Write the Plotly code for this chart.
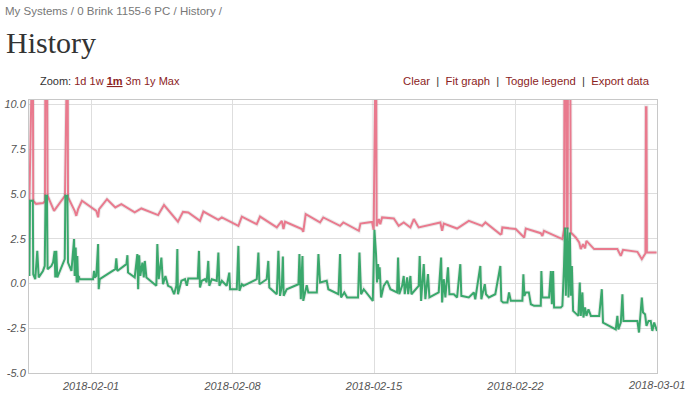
import pandas as pd
import plotly.graph_objects as go

BASE = pd.Timestamp("2018-02-01")

# ---- data (time = days since 2018-02-01, value) ----
pink_days = [-3.05, -3.03, -2.88, -2.86, -2.72, -2.38, -2.28, -2.25, -2.18, -2.15,
             -1.83, -1.29, -1.26, -1.16, -1.14, -0.81, -0.73, -0.64, -0.45, 0.26,
             0.35, 0.40, 0.79, 1.20, 1.50, 2.16, 2.49, 3.32, 3.61, 4.30,
             4.55, 4.81, 5.39, 5.56, 6.30, 6.47, 7.29, 7.46, 8.20, 8.36,
             9.19, 9.44, 9.52, 9.60, 10.43, 10.50, 10.62, 11.33, 11.49, 12.32,
             12.48, 13.25, 13.33, 13.90, 13.98, 14.00, 14.10, 14.13, 14.24, 14.31,
             14.40, 14.98, 15.22, 15.47, 15.80, 15.97, 16.21, 17.28, 17.37, 17.45,
             18.11, 18.69, 19.35, 19.51, 20.25, 20.31, 20.35, 21.01, 21.43, 21.51,
             22.25, 22.33, 22.41, 23.32, 23.40, 23.43, 23.50, 23.53, 23.58, 23.60,
             23.70, 23.74, 23.98, 24.15, 24.23, 24.34, 24.44, 24.51, 24.89, 26.04,
             26.21, 26.32, 27.03, 27.25, 27.43, 27.45, 27.48, 27.50, 27.98]
pink_values = [4.62, 15, 15, 4.62, 4.45, 4.49, 4.60, 15, 15, 4.90,
               4.06, 4.90, 15, 15, 4.82, 4.06, 3.78, 4.15, 4.62, 4.06,
               3.70, 4.15, 4.71, 4.25, 4.43, 3.97, 4.19, 3.82, 4.38, 3.45,
               4.00, 3.97, 3.50, 4.02, 3.56, 3.69, 3.22, 3.74, 3.31, 3.74,
               3.13, 3.50, 3.04, 3.45, 3.04, 2.89, 3.87, 3.41, 3.69, 3.22,
               3.41, 2.94, 3.35, 3.44, 3.00, 15, 15, 3.20, 3.60, 3.31,
               3.69, 3.63, 3.22, 3.41, 3.13, 3.60, 3.13, 3.41, 2.94, 3.35,
               3.07, 3.50, 3.22, 3.41, 2.75, 2.78, 3.13, 3.04, 2.57, 3.07,
               2.81, 2.66, 2.94, 2.48, 3.00, 15, 15, 3.10, 3.10, 15,
               15, 2.85, 2.57, 2.29, 1.92, 2.20, 1.96, 2.38, 1.92, 1.92,
               1.54, 1.88, 1.77, 1.36, 1.69, 9.85, 9.85, 1.73, 1.73]

green_days = [-3.05, -3.02, -2.88, -2.86, -2.76, -2.66, -2.59, -2.38, -2.29, -2.25,
              -2.18, -2.15, -1.96, -1.88, -1.80, -1.77, -1.72, -1.67, -1.30, -1.27,
              -1.17, -1.14, -0.97, -0.84, -0.81, -0.76, -0.71, -0.68, -0.64, -0.61,
              -0.56, 0.10, 0.15, 0.18, 0.26, 0.35, 0.38, 0.43, 1.20, 1.25,
              1.30, 1.75, 1.80, 1.83, 2.16, 2.29, 2.33, 2.38, 2.44, 2.54,
              2.61, 2.66, 2.74, 3.23, 3.28, 3.35, 3.48, 3.56, 3.68, 3.81,
              3.97, 4.11, 4.22, 4.27, 4.30, 4.47, 4.65, 4.74, 4.81, 5.28,
              5.34, 5.39, 5.48, 5.64, 5.72, 5.80, 5.85, 5.97, 6.22, 6.30,
              6.35, 6.47, 6.71, 6.84, 6.88, 7.21, 7.29, 7.34, 7.46, 7.54,
              8.20, 8.28, 8.33, 8.69, 8.77, 8.82, 9.19, 9.27, 9.35, 9.44,
              9.49, 9.53, 9.68, 10.26, 10.31, 10.38, 10.46, 10.50, 10.59, 10.67,
              10.75, 11.17, 11.25, 11.33, 11.66, 11.74, 12.24, 12.32, 12.37, 12.53,
              12.67, 13.21, 13.28, 13.36, 13.49, 13.94, 14.02, 14.10, 14.15, 14.20,
              14.24, 14.28, 14.35, 14.48, 14.65, 14.81, 15.14, 15.19, 15.25, 15.39,
              15.47, 15.52, 15.64, 15.69, 15.80, 15.85, 16.21, 16.26, 16.33, 16.46,
              16.54, 16.67, 16.74, 17.20, 17.32, 17.37, 17.45, 17.53, 17.66, 17.73,
              17.95, 18.11, 18.27, 18.32, 18.69, 18.94, 19.01, 19.26, 19.31, 19.48,
              19.54, 19.68, 20.00, 20.25, 20.30, 20.39, 20.60, 20.68, 20.77, 21.34,
              21.39, 21.44, 21.51, 21.66, 21.76, 21.92, 22.25, 22.28, 22.33, 22.66,
              22.75, 22.80, 22.86, 22.91, 23.24, 23.32, 23.40, 23.45, 23.49, 23.57,
              23.62, 23.69, 23.74, 23.79, 23.85, 24.11, 24.18, 24.23, 24.31, 24.36,
              24.44, 24.51, 24.61, 24.73, 25.14, 25.27, 25.33, 25.96, 26.04, 26.09,
              26.21, 26.29, 26.34, 27.03, 27.11, 27.25, 27.31, 27.41, 27.48, 27.58,
              27.69, 27.77, 27.86, 28.00]
green_values = [0.42, 4.62, 4.62, 0.52, 0.24, 1.82, 0.34, 0.70, 0.98, 4.90,
                4.90, 0.80, 0.98, 1.17, 1.82, 0.34, 1.82, 0.34, 1.36, 4.90,
                4.90, 1.17, 0.70, 2.48, 0.42, 2.01, 0.06, 1.54, 0.06, 0.42,
                0.24, 0.24, 0.70, 0.34, 0.42, 2.20, -0.32, 0.24, 0.80, 1.40,
                0.70, 1.08, 1.58, 0.61, 0.34, 1.64, -0.32, 1.58, 0.42, 1.17,
                0.34, 1.26, 0.34, -0.13, 2.20, 0.24, 1.45, -0.04, 0.42, -0.13,
                -0.22, -0.60, -0.13, 1.92, -0.60, 0.15, 0.24, -0.13, 0.28, 0.28,
                1.82, -0.22, 0.15, 0.24, 0.06, 1.26, -0.13, 0.24, 0.15, 1.73,
                -0.13, 0.15, -0.13, 0.61, -0.32, -0.32, 2.10, -0.41, -0.04, -0.13,
                0.24, 1.73, -0.04, 0.24, 1.26, -0.22, -0.60, 1.82, -0.69, -0.13,
                1.51, -0.69, -0.32, -0.04, 1.64, -0.88, 1.54, -0.97, -0.50, -0.10,
                -0.50, -0.50, 1.64, 0.06, 0.15, -0.32, -0.60, 1.64, -0.78, -0.50,
                -0.78, -0.78, 1.73, -0.60, -0.32, -0.97, 3.00, 1.64, 0.06, 1.08,
                0.24, 0.90, -0.78, -0.13, 0.15, -0.32, -0.50, 1.45, -0.60, -0.13,
                0.42, -0.60, 0.34, -0.60, 0.42, -0.60, -0.13, 1.54, -0.97, 1.08,
                -0.88, 0.52, -0.78, -0.50, 1.45, -1.06, 0.24, -0.78, 0.90, -0.60,
                -0.60, -0.78, 1.08, -0.69, -0.78, -0.50, -0.88, 0.98, -0.88, -0.04,
                -0.60, -0.78, -0.60, 0.98, -0.97, -1.06, -1.06, -0.50, -0.97, -0.97,
                0.52, -0.69, -0.50, -0.50, -1.16, -1.25, -1.25, 0.70, -0.78, -0.78,
                0.70, -1.16, 0.70, -1.34, -1.34, -1.25, 0.98, 3.13, -0.69, 3.13,
                -0.78, 2.85, -0.69, 0.98, -1.53, -1.81, 0.06, -1.81, -0.50, -1.90,
                -1.34, -1.81, -1.44, -1.81, -1.81, -0.32, -2.18, -2.56, -1.81, -2.56,
                -2.18, -0.60, -2.09, -2.09, -2.74, -0.78, -1.62, -1.72, -2.37, -2.09,
                -2.09, -2.65, -2.18, -2.65]

y_ticks = [-5.0, -2.5, 0.0, 2.5, 5.0, 7.5, 10.0]
y_tick_labels = ["-5.0", "-2.5", "0.0", "2.5", "5.0", "7.5", "10.0"]
x_tick_dates = ["2018-02-01", "2018-02-08", "2018-02-15", "2018-02-22", "2018-03-01"]

pink_x = BASE + pd.to_timedelta(pink_days, unit="D")
green_x = BASE + pd.to_timedelta(green_days, unit="D")

PINK = "#e97a8e"
GREEN = "#3aa86c"

fig = go.Figure()
for xs, ys, col in [(pink_x, pink_values, PINK), (green_x, green_values, GREEN)]:
    fig.add_trace(go.Scatter(x=xs, y=ys, mode="lines",
                             line=dict(color="rgba(0,0,0,0.08)", width=4),
                             hoverinfo="skip", showlegend=False))
    fig.add_trace(go.Scatter(x=xs, y=ys, mode="lines",
                             line=dict(color=col, width=2), showlegend=False))

L, R, T, B = 29, 28, 100, 20
W, H = 685, 393
pw, ph = W - L - R, H - T - B

def px(x):
    return (x - L) / pw

def py(y):
    return (H - B - y) / ph

tickfont = dict(family="Liberation Sans, Arial, sans-serif", size=11, color="#555555", style="italic")

fig.update_layout(
    width=W, height=H,
    margin=dict(l=L, r=R, t=T, b=B, autoexpand=False),
    paper_bgcolor="white", plot_bgcolor="white",
    showlegend=False,
    xaxis=dict(
        type="date", automargin=False,
        range=["2018-01-28 22:20", "2018-03-01 00:01"],
        tickvals=x_tick_dates[:-1], ticktext=x_tick_dates[:-1],
        showgrid=True, gridcolor="#dedede", gridwidth=1,
        showline=True, linecolor="#c8c8c8", linewidth=1, mirror=True,
        ticks="", tickfont=tickfont, zeroline=False, ticklabelstandoff=3,
    ),
    yaxis=dict(
        automargin=False,
        range=[-5, 10.25],
        tickvals=y_ticks, ticktext=y_tick_labels,
        showgrid=True, gridcolor="#dedede", gridwidth=1,
        showline=True, linecolor="#c8c8c8", linewidth=1, mirror=True,
        ticks="", tickfont=tickfont, zeroline=False,
    ),
)

link = "#8b2323"
sans = "Liberation Sans, Arial, sans-serif"
annotations = [
    dict(text="My Systems / 0 Brink 1155-6 PC / History /",
         x=px(3), y=py(11), xanchor="left", yanchor="middle",
         font=dict(family=sans, size=11.5, color="#777777")),
    dict(text="History",
         x=px(4), y=py(42), xanchor="left", yanchor="middle",
         font=dict(family="Liberation Serif, Times New Roman, serif", size=30, color="#333333")),
    dict(text=("Zoom: <span style='color:%s'>1d 1w <b><span style='text-decoration:underline'>1m</span></b>"
               " 3m 1y Max</span>") % link,
         x=px(38), y=py(81), xanchor="left", yanchor="middle",
         font=dict(family=sans, size=11, color="#333333")),
    dict(text=("<span style='color:%s'>Clear</span>  |  <span style='color:%s'>Fit graph</span>  |  "
               "<span style='color:%s'>Toggle legend</span>  |  <span style='color:%s'>Export data</span>")
         % (link, link, link, link),
         x=px(652), y=py(81), xanchor="right", yanchor="middle",
         font=dict(family=sans, size=11.3, color="#333333")),
    # last x tick label sits on the right edge and overflows the page, drawn as annotation
    dict(text=x_tick_dates[-1], xref="x", x=x_tick_dates[-1], y=py(385),
         xanchor="center", yanchor="middle", font=tickfont),
]
for a in annotations:
    a.setdefault("xref", "paper")
    a.update(yref="paper", showarrow=False)
fig.update_layout(annotations=annotations)

fig.write_html("out.html", config={"displayModeBar": False},
               post_script="document.body.style.margin='0';")
